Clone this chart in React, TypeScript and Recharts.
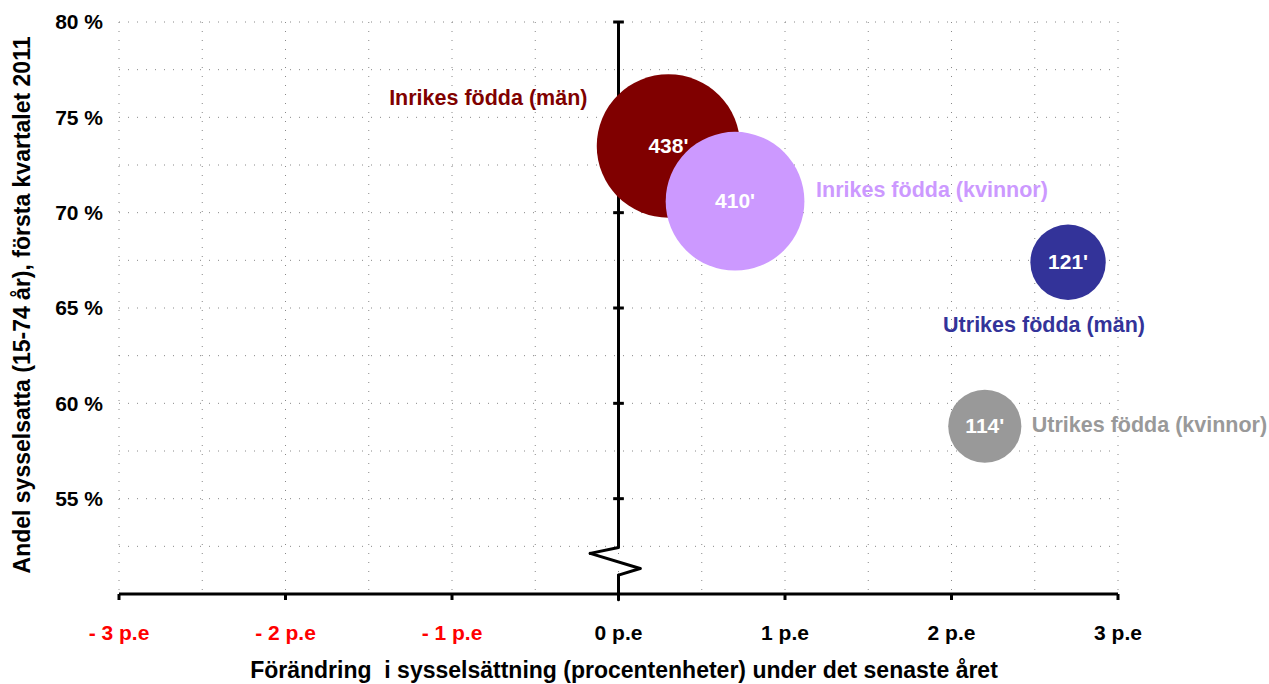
import {
  ScatterChart,
  Scatter,
  XAxis,
  YAxis,
  ZAxis,
  CartesianGrid,
  ReferenceLine,
} from "recharts";

// Grupper och värden
const GROUPS = [
  "Inrikes födda (män)",
  "Inrikes födda (kvinnor)",
  "Utrikes födda (män)",
  "Utrikes födda (kvinnor)",
];
const CHANGE_PE = [0.3, 0.7, 2.7, 2.2];
const EMPLOYMENT_RATE = [73.5, 70.6, 67.4, 58.8];
const EMPLOYED_THOUSANDS = [438, 410, 121, 114];

const X_TICKS = [-3, -2, -1, 0, 1, 2, 3];
const Y_TICKS = [55, 60, 65, 70, 75, 80];
const X_GRID = [-3, -2.5, -2, -1.5, -1, -0.5, 0, 0.5, 1, 1.5, 2, 2.5, 3];
const Y_GRID = [52.5, 55, 57.5, 60, 62.5, 65, 67.5, 70, 72.5, 75, 77.5, 80];

const COLORS = ["#800000", "#CC99FF", "#333399", "#999999"];
const NAME_PLACEMENT = [
  { dx: -81, dy: -41, anchor: "end" },
  { dx: 81, dy: -4, anchor: "start" },
  { dx: -24, dy: 70, anchor: "middle" },
  { dx: 47, dy: 6, anchor: "start" },
];

// axelbrott nere vid y-axeln
const BREAK_PATH = [
  { x: 0, y: 52.44 },
  { x: -0.17, y: 52.13 },
  { x: 0.13, y: 51.34 },
  { x: 0, y: 50.99 },
  { x: 0, y: 49.7 },
];

const FONT = "Arial, 'Liberation Sans', Helvetica, sans-serif";
const MAX_R = 71.7;

const data = GROUPS.map((name, i) => ({
  name,
  x: CHANGE_PE[i],
  y: EMPLOYMENT_RATE[i],
  z: EMPLOYED_THOUSANDS[i],
  i,
}));

function Bubble(props: any) {
  const { cx, cy, size, payload } = props;
  const i = payload.i;
  const r = Math.sqrt(size / Math.PI);
  const p = NAME_PLACEMENT[i];
  return (
    <g>
      <circle cx={cx} cy={cy} r={r} fill={COLORS[i]} />
      <text
        x={cx}
        y={cy + 7}
        textAnchor="middle"
        fill="#fff"
        fontSize={21}
        fontWeight="bold"
        fontFamily={FONT}
      >
        {`${payload.z}'`}
      </text>
      <text
        x={cx + p.dx}
        y={cy + p.dy}
        textAnchor={p.anchor}
        fill={COLORS[i]}
        fontSize={21.5}
        fontWeight="bold"
        fontFamily={FONT}
      >
        {payload.name}
      </text>
    </g>
  );
}

function XTick(props: any) {
  const { x, y, payload } = props;
  const v = payload.value;
  const label = v < 0 ? `- ${-v} p.e` : `${v} p.e`;
  return (
    <text
      x={x}
      y={y}
      dy="0.71em"
      textAnchor="middle"
      fill={v < 0 ? "#FF0000" : "#000"}
      fontSize={21}
      fontWeight="bold"
      fontFamily={FONT}
    >
      {label}
    </text>
  );
}

export default function App() {
  return (
    <div style={{ position: "absolute", left: 0, top: 0, background: "#fff" }}>
      <ScatterChart
        width={1269}
        height={684}
        margin={{ top: 22, right: 151, bottom: 30, left: 39 }}
      >
        <CartesianGrid
          stroke="#888"
          strokeDasharray="1 8"
          horizontalValues={Y_GRID}
          verticalValues={X_GRID}
        />
        <XAxis
          type="number"
          dataKey="x"
          domain={[-3, 3]}
          ticks={X_TICKS}
          height={60}
          axisLine={{ stroke: "#000", strokeWidth: 3 }}
          tickLine={{ stroke: "#000", strokeWidth: 3 }}
          tickSize={6}
          tickMargin={25}
          tick={<XTick />}
          interval={0}
          label={{
            content: () => (
              <text
                x={624}
                y={678}
                textAnchor="middle"
                fontSize={23}
                fontWeight="bold"
                fontFamily={FONT}
                fill="#000"
                style={{ whiteSpace: "pre" }}
              >
                {"Förändring  i sysselsättning (procentenheter) under det senaste året"}
              </text>
            ),
          }}
        />
        <YAxis
          type="number"
          dataKey="y"
          domain={[50, 80]}
          ticks={Y_TICKS}
          width={80}
          axisLine={false}
          tickLine={false}
          tickSize={0}
          tickMargin={16}
          interval={0}
          tickFormatter={(v: number) => `${v} %`}
          tick={{ fill: "#000", fontSize: 21, fontWeight: "bold", fontFamily: FONT }}
          label={{
            content: () => (
              <text
                x={30}
                y={305}
                transform="rotate(-90 30 305)"
                textAnchor="middle"
                fontSize={23}
                fontWeight="bold"
                fontFamily={FONT}
                fill="#000"
              >
                Andel sysselsatta (15-74 år), första kvartalet 2011
              </text>
            ),
          }}
        />
        <ZAxis
          type="number"
          dataKey="z"
          domain={[0, Math.max(...EMPLOYED_THOUSANDS)]}
          range={[0, Math.PI * MAX_R * MAX_R]}
        />
        <ReferenceLine
          segment={[
            { x: 0, y: 80 },
            { x: 0, y: 52.44 },
          ]}
          stroke="#000"
          strokeWidth={3}
          ifOverflow="visible"
        />
        {BREAK_PATH.slice(1).map((p, k) => (
          <ReferenceLine
            key={`b${k}`}
            segment={[BREAK_PATH[k], p]}
            stroke="#000"
            strokeWidth={3}
            strokeLinecap="round"
            ifOverflow="visible"
          />
        ))}
        {Y_TICKS.map((v) => (
          <ReferenceLine
            key={`t${v}`}
            segment={[
              { x: -0.032, y: v },
              { x: 0.032, y: v },
            ]}
            stroke="#000"
            strokeWidth={3}
            ifOverflow="visible"
          />
        ))}
        <Scatter data={data} shape={<Bubble />} isAnimationActive={false} />
      </ScatterChart>
    </div>
  );
}
